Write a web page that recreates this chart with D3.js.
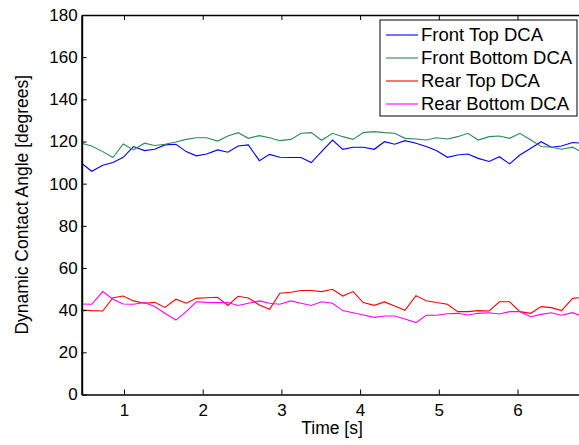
<!DOCTYPE html>
<html>
<head>
<meta charset="utf-8">
<script src="https://cdn.jsdelivr.net/npm/d3@7"></script>
<style>
  body { margin: 0; background: #fff; }
  svg { display: block; }
  text { font-family: "Liberation Sans", Arial, sans-serif; fill: #000; }
</style>
</head>
<body>
<div id="chart"></div>
<script>
// time samples [s]
var times = [0.46, 0.59, 0.73, 0.86, 0.99, 1.12, 1.26, 1.39, 1.52, 1.66,
             1.79, 1.92, 2.05, 2.19, 2.32, 2.45, 2.58, 2.72, 2.85, 2.98,
             3.12, 3.25, 3.38, 3.51, 3.65, 3.78, 3.91, 4.04, 4.18, 4.31,
             4.44, 4.57, 4.71, 4.84, 4.97, 5.11, 5.24, 5.37, 5.50, 5.64,
             5.77, 5.90, 6.03, 6.17, 6.30, 6.43, 6.56, 6.70, 6.83];

var frontTop = [109.7, 105.9, 108.7, 110.0, 112.5, 117.6, 115.7, 116.3, 118.4, 118.7,
                115.2, 113.2, 114.1, 116.0, 114.9, 117.9, 118.4, 110.9, 113.9, 112.5,
                112.4, 112.4, 110.0, 115.2, 120.7, 116.3, 117.3, 117.3, 116.3, 119.9,
                118.7, 120.4, 119.2, 117.6, 115.7, 112.5, 113.6, 114.1, 112.0, 110.5,
                112.8, 109.4, 113.6, 116.8, 119.9, 117.3, 117.9, 119.5, 119.2];

var frontBottom = [119.2, 117.9, 115.2, 112.4, 118.8, 116.0, 119.2, 118.1, 118.7, 119.8,
                   121.0, 121.8, 121.8, 120.2, 122.6, 124.2, 121.5, 122.8, 121.8, 120.4,
                   121.0, 123.9, 124.2, 120.6, 123.9, 122.3, 121.0, 124.2, 124.7, 124.2,
                   123.9, 121.5, 121.2, 120.7, 121.8, 121.2, 122.3, 123.9, 120.7, 122.3,
                   122.6, 121.5, 123.9, 120.7, 117.6, 117.3, 116.3, 117.3, 114.7];

var rearTop = [40.1, 39.8, 39.6, 45.9, 46.7, 44.4, 43.3, 43.7, 41.3, 45.2,
               43.3, 45.6, 45.9, 46.1, 42.2, 46.6, 45.8, 42.5, 40.4, 48.0,
               48.5, 49.3, 49.3, 48.8, 49.9, 46.7, 48.8, 43.6, 42.3, 43.9,
               42.0, 39.9, 46.9, 44.5, 43.6, 42.8, 39.3, 39.3, 39.8, 39.6,
               44.0, 44.0, 39.3, 38.5, 41.7, 41.2, 39.8, 45.6, 46.1];

var rearBottom = [42.9, 42.8, 48.8, 45.2, 42.9, 42.8, 43.6, 41.7, 38.5, 35.3,
                  39.3, 44.0, 43.7, 43.6, 43.6, 42.2, 43.3, 44.4, 43.3, 42.8,
                  44.4, 43.3, 42.2, 44.0, 43.3, 39.8, 38.8, 37.7, 36.6, 37.2,
                  37.2, 35.8, 34.1, 37.6, 37.6, 38.3, 38.5, 37.7, 38.5, 38.8,
                  38.2, 39.3, 39.3, 36.9, 38.0, 38.8, 37.6, 38.8, 36.9];

var seriesNames = ["Front Top DCA", "Front Bottom DCA", "Rear Top DCA", "Rear Bottom DCA"];
var seriesColors = ["#0000ff", "#2e8b57", "#ff0000", "#ff00ff"];
var xTicks = [1, 2, 3, 4, 5, 6];
var yTicks = [0, 20, 40, 60, 80, 100, 120, 140, 160, 180];

function draw() {
  var W = 579, H = 445;
  var plotLeft = 81.7, plotTop = 15, plotBottom = 394.5;
  var x0 = 0.4625, x1 = 6.9, pxPerSec = 78.7;

  var svg = d3.select("#chart").append("svg")
      .attr("width", W)
      .attr("height", H)
      .style("background", "#fff");

  var x = d3.scaleLinear().domain([x0, x1]).range([plotLeft, plotLeft + (x1 - x0) * pxPerSec]);
  var y = d3.scaleLinear().domain([0, 180]).range([plotBottom, plotTop]);

  svg.append("clipPath").attr("id", "plotclip")
    .append("rect")
      .attr("x", plotLeft).attr("y", plotTop)
      .attr("width", x.range()[1] - plotLeft).attr("height", plotBottom - plotTop);

  // lines
  var allSeries = [frontTop, frontBottom, rearTop, rearBottom];
  var line = d3.line()
      .x(function (d, i) { return x(times[i]); })
      .y(function (d) { return y(d); });

  svg.append("g").attr("clip-path", "url(#plotclip)")
    .selectAll("path")
    .data(allSeries)
    .enter()
    .append("path")
      .attr("d", line)
      .attr("fill", "none")
      .attr("stroke", function (d, i) { return seriesColors[i]; })
      .attr("stroke-width", 1.1);

  // axes, ticks point inward like matlab
  var tickSize = 5;
  var fontSize = "17px";

  var xAxis = svg.append("g").attr("transform", "translate(0," + plotBottom + ")")
      .call(d3.axisBottom(x).tickValues(xTicks).tickFormat(d3.format("d"))
        .tickSizeInner(-tickSize).tickSizeOuter(0).tickPadding(9));
  var xTop = svg.append("g").attr("transform", "translate(0," + plotTop + ")")
      .call(d3.axisTop(x).tickValues(xTicks).tickFormat("")
        .tickSizeInner(-tickSize).tickSizeOuter(0));
  var yAxis = svg.append("g").attr("transform", "translate(" + plotLeft + ",0)")
      .call(d3.axisLeft(y).tickValues(yTicks).tickFormat(d3.format("d"))
        .tickSizeInner(-tickSize).tickSizeOuter(0).tickPadding(4));

  [xAxis, xTop, yAxis].forEach(function (g) {
    g.selectAll("line").attr("stroke", "#000");
    g.selectAll("text").style("font-size", fontSize).attr("fill", "#000")
      .style("font-family", "'Liberation Sans', Arial, sans-serif");
  });
  xAxis.select(".domain").attr("stroke", "#000").attr("stroke-width", 1.5);
  xTop.select(".domain").attr("stroke", "#000").attr("stroke-width", 1.5);
  yAxis.select(".domain").attr("stroke", "#000").attr("stroke-width", 2);

  // axis labels
  svg.append("text")
      .attr("x", 332)
      .attr("y", 434)
      .attr("text-anchor", "middle")
      .style("font-size", "17.5px")
      .text("Time [s]");

  svg.append("text")
      .attr("transform", "translate(28," + ((plotTop + plotBottom) / 2) + ") rotate(-90)")
      .attr("text-anchor", "middle")
      .style("font-size", "17.5px")
      .text("Dynamic Contact Angle [degrees]");

  // legend
  var legend = svg.append("g").attr("transform", "translate(380,20)");
  legend.append("rect")
      .attr("width", 197).attr("height", 96)
      .attr("fill", "#fff").attr("stroke", "#000").attr("stroke-width", 1);

  var rows = legend.selectAll("g.row")
    .data(seriesNames)
    .enter()
    .append("g")
      .attr("class", "row")
      .attr("transform", function (d, i) { return "translate(0," + (15 + i * 23) + ")"; });

  rows.append("line")
      .attr("x1", 6).attr("x2", 38)
      .attr("stroke", function (d, i) { return seriesColors[i]; })
      .attr("stroke-width", 1.1);

  rows.append("text")
      .attr("x", 41)
      .attr("dy", "0.35em")
      .style("font-size", "18.5px")
      .text(function (d) { return d; });
}
window.onload = draw;
</script>
</body>
</html>
